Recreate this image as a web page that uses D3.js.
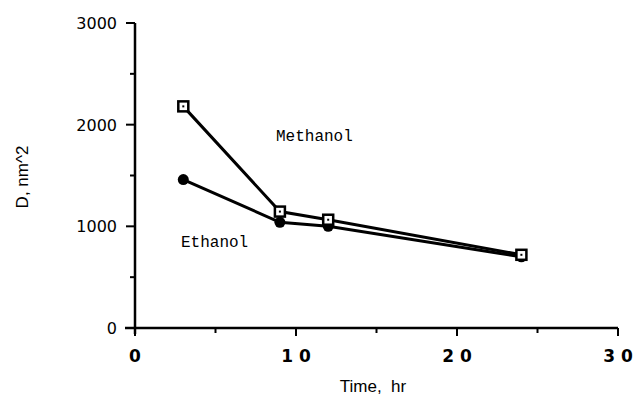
<!DOCTYPE html>
<head>
  <meta charset="utf-8">
  <script src="https://d3js.org/d3.v7.min.js"></script>
  <style>
    body { margin: 0; background: #fff; }
    * { font-family: "Liberation Sans", Helvetica, Arial, sans-serif; }
  </style>
</head>
<body>
<div id="my_dataviz"></div>
<script>

// data
var times = [3, 9, 12, 24];
var methanol = [2180, 1145, 1065, 720];
var ethanol = [1460, 1040, 1000, 700];
var xTicks = [0, 10, 20, 30];
var xTickLabels = ["0", "1 0", "2 0", "3 0"];
var yTicks = [0, 1000, 2000, 3000];

var width = 634, height = 400;

var svg = d3.select("#my_dataviz")
  .append("svg")
    .attr("width", width)
    .attr("height", height);

var x = d3.scaleLinear().domain([0, 30]).range([135, 618]);
var y = d3.scaleLinear().domain([0, 3000]).range([328, 23]);

// Y axis
var yAxis = svg.append("g")
  .attr("transform", "translate(135,0)");
yAxis.append("line")
  .attr("x1", 0).attr("x2", 0)
  .attr("y1", y(3000)).attr("y2", y(0) + 6)
  .attr("stroke", "black").attr("stroke-width", 2.5);
yAxis.selectAll(".major")
  .data(yTicks)
  .enter().append("line")
    .attr("x1", -9).attr("x2", 0)
    .attr("y1", d => y(d)).attr("y2", d => y(d))
    .attr("stroke", "black").attr("stroke-width", 2);
yAxis.selectAll(".minor")
  .data([500, 1500, 2500])
  .enter().append("line")
    .attr("x1", -5).attr("x2", 0)
    .attr("y1", d => y(d)).attr("y2", d => y(d))
    .attr("stroke", "black").attr("stroke-width", 2);
yAxis.selectAll(".lbl")
  .data(yTicks)
  .enter().append("text")
    .attr("x", -18)
    .attr("y", d => y(d) + 6)
    .attr("text-anchor", "end")
    .style("font-family", "'DejaVu Sans', sans-serif")
    .style("font-size", "16px")
    .text(d => d);

// X axis
var xAxis = svg.append("g")
  .attr("transform", "translate(0,328)");
xAxis.append("line")
  .attr("x1", x(0) - 10).attr("x2", x(30))
  .attr("y1", 0).attr("y2", 0)
  .attr("stroke", "black").attr("stroke-width", 2.5);
xAxis.selectAll(".major")
  .data(xTicks)
  .enter().append("line")
    .attr("x1", d => x(d)).attr("x2", d => x(d))
    .attr("y1", 0).attr("y2", 8)
    .attr("stroke", "black").attr("stroke-width", 2);
xAxis.selectAll(".minor")
  .data([5, 15, 25])
  .enter().append("line")
    .attr("x1", d => x(d)).attr("x2", d => x(d))
    .attr("y1", 0).attr("y2", 5)
    .attr("stroke", "black").attr("stroke-width", 2);
xAxis.selectAll(".lbl")
  .data(xTicks)
  .enter().append("text")
    .attr("x", d => x(d))
    .attr("y", 34)
    .attr("text-anchor", "middle")
    .style("font-family", "'DejaVu Sans', sans-serif")
    .style("font-size", "17px")
    .style("font-weight", "bold")
    .text((d, i) => xTickLabels[i]);

// axis titles
svg.append("text")
  .attr("transform", "translate(28,177) rotate(-90)")
  .attr("text-anchor", "middle")
  .style("font-size", "17px")
  .text("D, nm^2");
svg.append("text")
  .attr("x", 373)
  .attr("y", 392)
  .attr("text-anchor", "middle")
  .style("font-size", "17px")
  .style("white-space", "pre")
  .text("Time,  hr");

var line = d3.line()
  .x(d => x(d[0]))
  .y(d => y(d[1]));

var methData = times.map((t, i) => [t, methanol[i]]);
var ethData = times.map((t, i) => [t, ethanol[i]]);

svg.append("path")
  .datum(ethData)
  .attr("d", line)
  .attr("fill", "none").attr("stroke", "black").attr("stroke-width", 3);
svg.append("path")
  .datum(methData)
  .attr("d", line)
  .attr("fill", "none").attr("stroke", "black").attr("stroke-width", 3);

// ethanol markers: filled circles
svg.selectAll(".eth")
  .data(ethData)
  .enter().append("circle")
    .attr("cx", d => x(d[0]))
    .attr("cy", d => y(d[1]))
    .attr("r", 5.5)
    .attr("fill", "black");

// methanol markers: open squares with a dot
var sq = svg.selectAll(".meth")
  .data(methData)
  .enter().append("g")
    .attr("transform", d => "translate(" + x(d[0]) + "," + y(d[1]) + ")");
sq.append("rect")
  .attr("x", -5).attr("y", -5)
  .attr("width", 10).attr("height", 10)
  .attr("fill", "white").attr("stroke", "black").attr("stroke-width", 2.5);
sq.append("rect")
  .attr("x", -1).attr("y", -1)
  .attr("width", 2).attr("height", 2)
  .attr("fill", "black");

// series labels
svg.append("text")
  .attr("x", 276).attr("y", 141)
  .style("font-family", "'Liberation Mono', 'Courier New', monospace")
  .style("font-size", "16px")
  .text("Methanol");
svg.append("text")
  .attr("x", 181).attr("y", 247)
  .style("font-family", "'Liberation Mono', 'Courier New', monospace")
  .style("font-size", "16px")
  .text("Ethanol");

</script>
</body>
</html>
